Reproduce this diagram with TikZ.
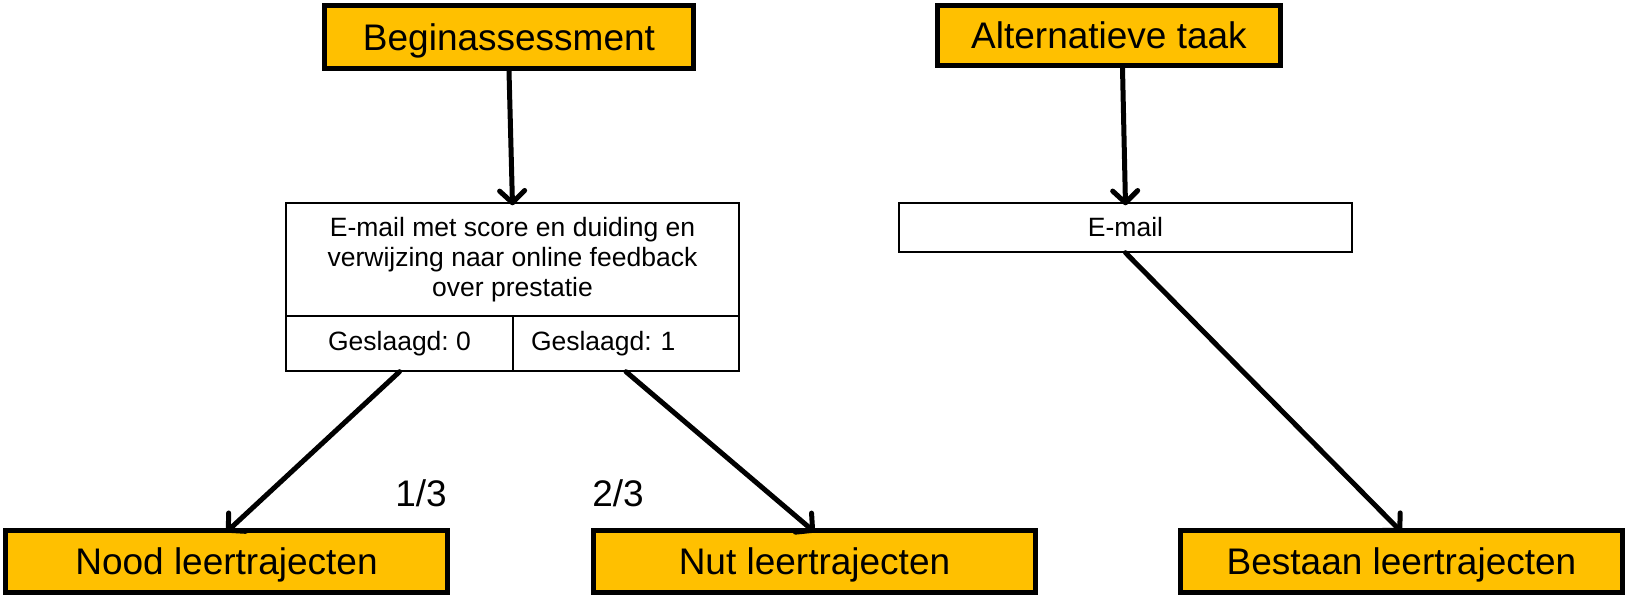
\documentclass[tikz,border=0pt]{standalone}
\usepackage{fontspec}
\setmainfont{Liberation Sans}
\usepackage{tikz}
\usetikzlibrary{arrows.meta}
\definecolor{oranjegeel}{HTML}{FFC000}

\begin{document}
\frenchspacing
\begin{tikzpicture}[x=1pt,y=-1pt,
    geel/.style={draw=black,fill=oranjegeel,line width=5pt,inner sep=0pt,
      minimum height=62pt,text height=26.5pt,text depth=0pt,
      font=\fontsize{37}{44}\selectfont},
    wit/.style={draw=black,fill=white,line width=1.4pt,inner sep=0pt,
      font=\fontsize{26.5}{30}\selectfont},
    pijl/.style={line width=5pt,line cap=round,
      -{Straight Barb[length=12pt,width=25pt,line cap=round,line join=round]}}]
   \useasboundingbox (0,0) rectangle (1625,595);
   %% bovenste vakken
   \node[geel,minimum width=369pt,minimum height=63pt](Begin) at (509,37) {Beginassessment};
   \node[geel,minimum width=343pt,minimum height=60pt](Alt) at (1109,35.5) {Alternatieve taak};
   %% e-mails
   \node[wit,minimum width=453pt,minimum height=113pt,align=center](Mail) at (512.5,259.5)
      {E-mail met score en duiding en\\verwijzing naar online feedback\\over prestatie};
   \node[wit,minimum width=227pt,minimum height=55pt](G0) at (399.5,343.5) {Geslaagd: 0};
   \node[wit,minimum width=226pt,minimum height=55pt,text width=190pt,align=left](G1)
      at (626,343.5) {Geslaagd: 1};
   \node[wit,minimum width=453pt,minimum height=49pt](MailB) at (1125.5,227.5) {E-mail};
   %% leertrajecten
   \node[geel,minimum width=442pt](Nood) at (226.5,561.5) {Nood leertrajecten};
   \node[geel,minimum width=442pt](Nut) at (814.5,561.5) {Nut leertrajecten};
   \node[geel,minimum width=442pt](Bestaan) at (1401.5,561.5) {Bestaan leertrajecten};
   %% fracties
   \node[font=\fontsize{37}{44}\selectfont](Een) at (421,493) {1/3};
   \node[font=\fontsize{37}{44}\selectfont](Twee) at (618,493) {2/3};
   %% pijlen
   \draw[pijl] (Begin.south) -- ([yshift=-3pt]Mail.north);
   \draw[pijl] ([xshift=-3pt]MailB.north |- Alt.south) -- ([yshift=-3pt]MailB.north);
   \draw[pijl] (G0.south) -- ([yshift=-4pt]Nood.north);
   \draw[pijl] (G1.south) -- ([yshift=-4pt]Nut.north);
   \draw[pijl] (MailB.south) -- ([yshift=-4pt]Bestaan.north);
\end{tikzpicture}
\end{document}
